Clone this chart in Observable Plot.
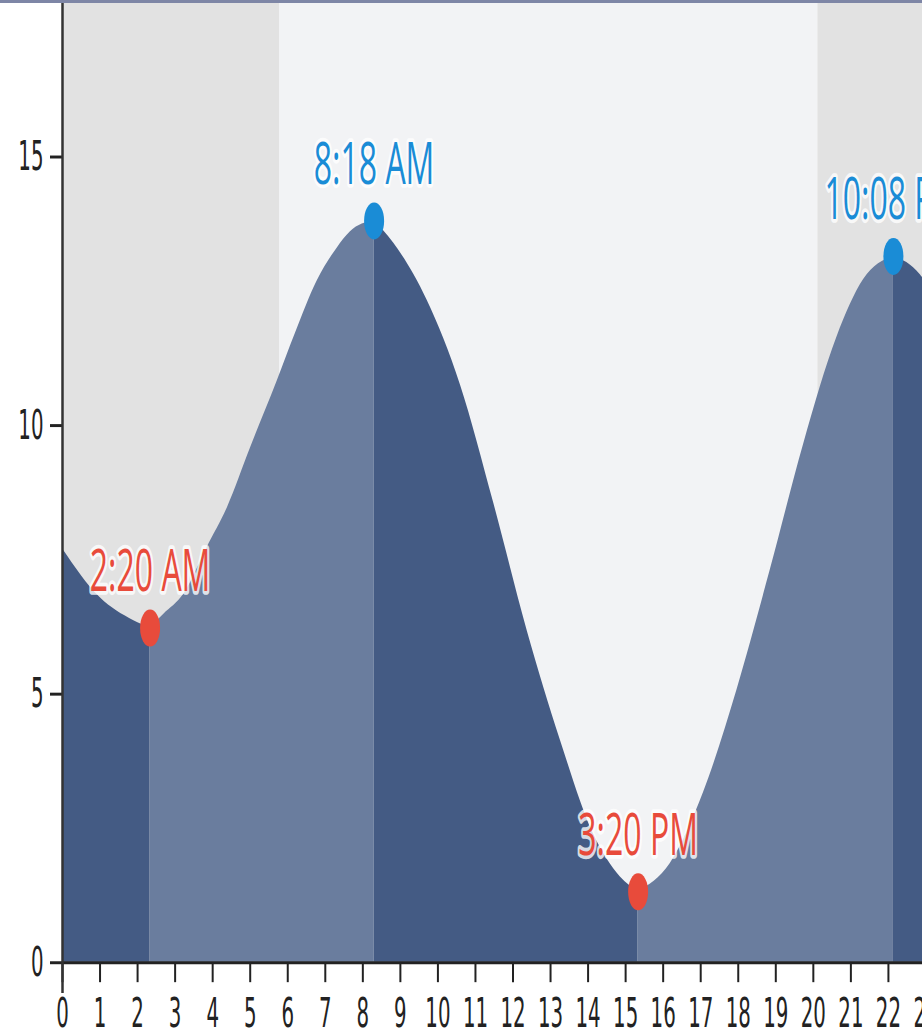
<!DOCTYPE html>
<html>
<head>
<meta charset="utf-8">
<script src="https://cdn.jsdelivr.net/npm/d3@7"></script>
<script src="https://cdn.jsdelivr.net/npm/@observablehq/plot@0.6"></script>
<style>
  html, body { margin: 0; padding: 0; background: #ffffff; overflow: hidden; width: 922px; height: 1034px; }
  #bar { height: 3px; background: #7e86a6; width: 922px; }
  #chart { width: 922px; height: 1031px; overflow: hidden; }
  #chart svg { font-stretch: condensed; }
  #chart svg g[aria-label="text"] { font-stretch: normal; }
  g[aria-label="x-axis tick"] { stroke-width: 2; }
  g[aria-label="y-axis tick"] { stroke-width: 1.6; }
</style>
</head>
<body>
<div id="bar"></div>
<div id="chart"></div>
<script>
// Tide height (ft), hour of day
const hours   = [0, 1.0, 1.9, 2.333, 2.7, 3.23, 3.85, 4.39, 5.01, 5.72, 6.2, 6.78, 7.32, 7.67, 8.3, 8.82, 9.71, 10.6, 11.49, 12.38, 13.26, 14.15, 14.86, 15.333, 16.19, 17.08, 17.97, 18.86, 19.74, 20.63, 21.34, 22.133, 22.85, 23.5, 24];
const heights = [7.7, 6.79, 6.36, 6.23, 6.48, 6.85, 7.72, 8.46, 9.58, 10.82, 11.7, 12.68, 13.3, 13.6, 13.81, 13.39, 12.33, 10.75, 8.54, 6.17, 4.14, 2.38, 1.59, 1.32, 1.84, 3.17, 5.08, 7.32, 9.64, 11.64, 12.71, 13.15, 12.8, 12.0, 11.0];

// High / low tide events
const extremeHours   = [2.333, 8.3, 15.333, 22.133];
const extremeHeights = [6.23, 13.81, 1.32, 13.15];
const extremeLabels  = ["2:20 AM", "8:18 AM", "3:20 PM", "10:08 PM"];
const extremeTypes   = ["low", "high", "low", "high"];

// Night (before sunrise, after sunset) and day periods
const periodStart = [0, 5.78, 20.12];
const periodEnd   = [5.78, 20.12, 24];
const periodType  = ["night", "day", "night"];

const xTicks = [0,1,2,3,4,5,6,7,8,9,10,11,12,13,14,15,16,17,18,19,20,21,22,23,24];
const yTicks = [0, 5, 10, 15];

// Build tables
const tide = hours.map((h, i) => ({hour: h, height: heights[i]}));
const bounds = [0, ...extremeHours, 24];
const segments = [];
for (let i = 0; i < bounds.length - 1; i++) {
  const a = bounds[i], b = bounds[i + 1];
  const rising = i > 0 ? extremeTypes[i - 1] === "low" : extremeTypes[0] === "high";
  for (const d of tide) if (d.hour >= a - 1e-6 && d.hour <= b + 1e-6) segments.push({...d, seg: i, kind: rising ? "rising" : "falling"});
}
const extremes = extremeHours.map((h, i) => ({hour: h, height: extremeHeights[i], label: extremeLabels[i], type: extremeTypes[i]}));
const periods = periodStart.map((s, i) => ({x1: s, x2: periodEnd[i], type: periodType[i]}));

const W = 1000, H = 557;
const plot = Plot.plot({
  width: W,
  height: H,
  marginLeft: 62,
  marginRight: 37,
  marginTop: 0,
  marginBottom: 39,
  style: {fontSize: "22px", fontFamily: "'DejaVu Sans Condensed', 'DejaVu Sans', sans-serif", color: "#222", background: "white", overflow: "visible"},
  x: {domain: [0, 24], ticks: xTicks, tickFormat: d => String(d), tickSize: 11, tickPadding: 8, label: null},
  y: {domain: [0, 17.85], ticks: yTicks, tickSize: 12, tickPadding: 7, label: null},
  marks: [
    Plot.rect(periods, {x1: "x1", x2: "x2", fill: d => d.type === "night" ? "#e2e2e2" : "#f2f3f5"}),
    Plot.area(segments, {x1: "hour", y1: 0, y2: "height", z: "seg", fill: d => d.kind === "rising" ? "#6a7d9e" : "#445b84", curve: "monotone-x"}),
    Plot.ruleY([0], {stroke: "#222", strokeWidth: 1.6}),
    Plot.ruleX([0], {y1: 17.85, y2: -0.58, stroke: "#333", strokeWidth: 2.5}),
    Plot.dot(extremes, {x: "hour", y: "height", r: 10, fill: d => d.type === "high" ? "#1a8cd6" : "#e84b3b", stroke: "none"}),
    Plot.text(extremes, {x: "hour", y: "height", text: "label", dy: -20, lineAnchor: "bottom", textAnchor: "middle",
      fontSize: 32, fontFamily: "'Open Sans', sans-serif",
      fill: d => d.type === "high" ? "#1a8cd6" : "#e84b3b", stroke: "white", strokeWidth: 4, strokeOpacity: 0.8})
  ]
});
plot.setAttribute("width", W);
plot.setAttribute("height", 1031);
plot.setAttribute("preserveAspectRatio", "none");
plot.style.width = W + "px";
plot.style.height = "1031px";
plot.style.maxWidth = "none";
document.getElementById("chart").appendChild(plot);
</script>
</body>
</html>
